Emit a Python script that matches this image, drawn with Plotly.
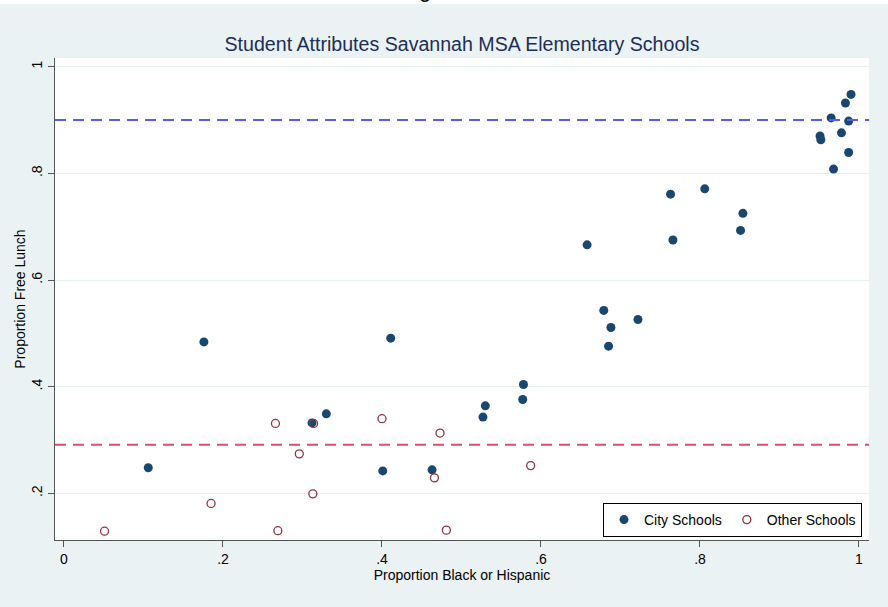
import plotly.graph_objects as go

# City schools: share Black or Hispanic vs. share receiving free lunch
city_black_hisp = [0.106, 0.176, 0.312, 0.330, 0.411, 0.401, 0.463, 0.527, 0.530, 0.577,
                   0.578, 0.658, 0.679, 0.688, 0.685, 0.722, 0.763, 0.766, 0.806, 0.854,
                   0.851, 0.990, 0.983, 0.965, 0.987, 0.951, 0.952, 0.978, 0.987, 0.968]
city_free_lunch = [0.248, 0.484, 0.332, 0.349, 0.491, 0.242, 0.244, 0.343, 0.364, 0.376,
                   0.404, 0.666, 0.543, 0.511, 0.476, 0.526, 0.761, 0.675, 0.771, 0.725,
                   0.693, 0.948, 0.932, 0.904, 0.898, 0.870, 0.863, 0.876, 0.839, 0.808]

# Other (non-city) schools
other_black_hisp = [0.051, 0.185, 0.269, 0.266, 0.314, 0.296, 0.313, 0.400, 0.473, 0.466,
                    0.481, 0.587]
other_free_lunch = [0.129, 0.181, 0.130, 0.331, 0.331, 0.274, 0.199, 0.340, 0.313, 0.229,
                    0.131, 0.252]

# Horizontal reference levels
city_reference = 0.900
other_reference = 0.291

x_ticks = [0, 0.2, 0.4, 0.6, 0.8, 1]
x_tick_labels = ["0", ".2", ".4", ".6", ".8", "1"]
y_ticks = [0.2, 0.4, 0.6, 0.8, 1]
y_tick_labels = [".2", ".4", ".6", ".8", "1"]

FONT = "Liberation Sans, Arial, sans-serif"
NAVY = "#1a476f"
MAROON = "#90353b"
BG = "#eaf2f3"

fig = go.Figure()
fig.add_trace(go.Scatter(
    x=city_black_hisp, y=city_free_lunch, mode="markers", name="City Schools",
    marker=dict(color=NAVY, size=9, line=dict(width=0)),
))
fig.add_trace(go.Scatter(
    x=other_black_hisp, y=other_free_lunch, mode="markers", name="Other Schools",
    marker=dict(symbol="circle-open", color=MAROON, size=8, line=dict(width=1.3, color=MAROON)),
))

fig.add_hline(y=city_reference, line=dict(color="#5a5af2", width=2, dash="11px,7px"))
fig.add_hline(y=other_reference, line=dict(color="#d6506e", width=2, dash="11px,7px"))

# thin white strip along the very top of the page, with the tail of a heading above it
fig.add_shape(type="rect", xref="paper", yref="paper",
              x0=-0.1, x1=1.1, y0=(540 - 4) / 482, y1=1.3,
              fillcolor="white", line=dict(width=0), layer="above")
fig.add_annotation(text="g", xref="paper", yref="paper",
                   x=(425 - 55) / 814, y=(540 - 4) / 482, yanchor="bottom",
                   showarrow=False, font=dict(family=FONT, size=22, color="black"))

fig.update_layout(
    width=888, height=607,
    margin=dict(l=55, r=19, t=58, b=67),
    paper_bgcolor=BG, plot_bgcolor="white",
    font=dict(family=FONT, size=14, color="black"),
    title=dict(text="Student Attributes Savannah MSA Elementary Schools",
               x=0.5, xref="paper", y=1 - 44 / 607, yref="container",
               xanchor="center", yanchor="middle",
               font=dict(family=FONT, size=19.6, color="#1e2d55")),
    showlegend=True,
    legend=dict(orientation="h", x=(862 - 55) / 814, xanchor="right",
                y=(540 - 537) / 482, yanchor="bottom",
                bgcolor="white", bordercolor="black", borderwidth=1,
                font=dict(family=FONT, size=14, color="black")),
    xaxis=dict(range=[-0.0113, 1.0126], tickvals=x_ticks, ticktext=x_tick_labels,
               showgrid=False, zeroline=False, showline=True, linecolor="#555555",
               linewidth=1.3, ticks="outside", ticklen=6, tickcolor="#555555",
               tickfont=dict(size=14),
               title=dict(text="Proportion Black or Hispanic", standoff=2,
                          font=dict(size=14))),
    yaxis=dict(range=[0.1125, 1.0163], tickvals=y_ticks, ticktext=y_tick_labels,
               tickangle=-90, showgrid=True, gridcolor="#e6eef0", gridwidth=1,
               zeroline=False, showline=True, linecolor="#555555", linewidth=1.3,
               ticks="outside", ticklen=6, tickcolor="#555555",
               tickfont=dict(size=14),
               title=dict(text="Proportion Free Lunch", standoff=0,
                          font=dict(size=14))),
)

fig.write_html("out.html")
